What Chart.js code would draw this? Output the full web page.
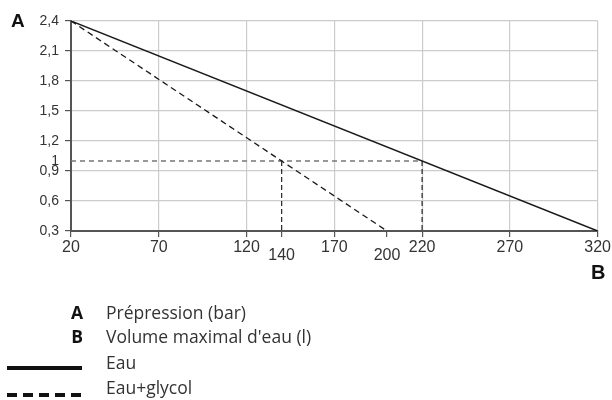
<!DOCTYPE html>
<html>
<head>
<meta charset="utf-8">
<script src="https://cdn.jsdelivr.net/npm/chart.js@4"></script>
<style>
  body { margin: 0; background: #fff; }
  #wrap { position: relative; width: 612px; height: 400px; }
  .lbl { position: absolute; font-family: "Liberation Sans", Arial, sans-serif; font-weight: bold; color: #111; }
  .leg { position: absolute; font-family: "Open Sans", sans-serif; font-size: 17.5px; color: #333; line-height: 24px; white-space: nowrap; }
  .key { position: absolute; left: 56px; width: 27px; text-align: right; font-family: "Open Sans", sans-serif; font-weight: bold; font-size: 17.5px; color: #111; line-height: 24px; }
  .sample { position: absolute; left: 7px; width: 75px; height: 4px; }
</style>
</head>
<body>
<div id="wrap">
  <canvas id="chart"></canvas>
  <div class="lbl" style="left:11px; top:10px; font-size:19px;">A</div>
  <div class="lbl" style="left:591px; top:261px; font-size:20px;">B</div>

  <div class="key" style="top:300px;">A</div>
  <div class="leg" style="left:106px; top:300px;">Prépression (bar)</div>
  <div class="key" style="top:324px;">B</div>
  <div class="leg" style="left:106px; top:324px;">Volume maximal d'eau (l)</div>
  <div class="sample" style="top:366px; background:#111;"></div>
  <div class="leg" style="left:106px; top:350px;">Eau</div>
  <div class="sample" style="top:393px; background:repeating-linear-gradient(to right, #111 0 10px, transparent 10px 16px);"></div>
  <div class="leg" style="left:106px; top:375px;">Eau+glycol</div>
</div>
<script>
// ========== Data ==========
const volumeEau = [20, 320];
const pressureEau = [2.4, 0.3];
const volumeGlycol = [20, 200];
const pressureGlycol = [2.4, 0.3];

// reading example : 1 bar -> 220 l (eau), 140 l (eau+glycol)
const refPressure = 1;
const refVolumeEau = 220;
const refVolumeGlycol = 140;
const minPressure = 0.3;
const minVolume = 20;

const xTicks = [20, 70, 120, 140, 170, 200, 220, 270, 320];
const yTicks = [0.3, 0.6, 0.9, 1, 1.2, 1.5, 1.8, 2.1, 2.4];
const xNoGrid = [20, 140, 200];
const yNoGrid = [0.3, 1];
const xLowLabels = [140, 200];

const toPoints = (xs, ys) => xs.map((x, i) => ({ x, y: ys[i] }));

// ========== Chart ==========
new Chart(document.getElementById('chart'), {
  type: 'scatter',
  data: {
    datasets: [
      { label: 'Eau', data: toPoints(volumeEau, pressureEau), showLine: true, borderColor: '#1a1a1a', borderWidth: 1.5, pointRadius: 0 },
      { label: 'Eau+glycol', data: toPoints(volumeGlycol, pressureGlycol), showLine: true, borderColor: '#1a1a1a', borderWidth: 1.3, borderDash: [6, 4], pointRadius: 0 },
      { data: toPoints([minVolume, refVolumeEau], [refPressure, refPressure]), showLine: true, borderColor: '#777', borderWidth: 1.3, borderDash: [5, 4], pointRadius: 0 },
      { data: toPoints([refVolumeEau, refVolumeEau], [refPressure, minPressure]), showLine: true, borderColor: '#222', borderWidth: 1.2, borderDash: [5, 3], pointRadius: 0 },
      { data: toPoints([refVolumeGlycol, refVolumeGlycol], [refPressure, minPressure]), showLine: true, borderColor: '#222', borderWidth: 1.2, borderDash: [5, 3], pointRadius: 0 }
    ]
  },
  options: {
    responsive: true,
    maintainAspectRatio: false,
    animation: false,
    layout: { padding: { left: 0, right: 14, top: 21, bottom: 0 } },
    plugins: { legend: { display: false }, tooltip: { enabled: false } },
    scales: {
      x: {
        type: 'linear',
        min: 20,
        max: 320,
        afterBuildTicks: axis => { axis.ticks = xTicks.map(v => ({ value: v })); },
        afterFit: scale => { scale.height = 169; },
        border: { color: '#555', width: 2 },
        grid: {
          color: ctx => xNoGrid.includes(ctx.tick && ctx.tick.value) ? 'rgba(0,0,0,0)' : '#cccccc',
          tickColor: '#555',
          tickLength: 6,
          lineWidth: 1.2
        },
        ticks: {
          autoSkip: false,
          maxRotation: 0,
          padding: 1,
          color: '#333',
          font: ctx => ({
            family: '"Liberation Sans", Arial, sans-serif',
            size: 16,
            lineHeight: xLowLabels.includes(ctx.tick && ctx.tick.value) ? 2.25 : 1.2
          }),
          callback: v => String(v)
        }
      },
      y: {
        type: 'linear',
        min: 0.3,
        max: 2.4,
        afterBuildTicks: axis => { axis.ticks = yTicks.map(v => ({ value: v })); },
        afterFit: scale => { scale.width = 71; },
        border: { color: '#555', width: 2 },
        grid: {
          color: ctx => yNoGrid.includes(ctx.tick && ctx.tick.value) ? 'rgba(0,0,0,0)' : '#cccccc',
          tickColor: ctx => ctx.tick && ctx.tick.value === refPressure ? 'rgba(0,0,0,0)' : '#555',
          tickLength: 6,
          lineWidth: 1.2
        },
        ticks: {
          autoSkip: false,
          padding: 6,
          color: '#333',
          font: { family: '"Liberation Sans", Arial, sans-serif', size: 14 },
          callback: v => String(v).replace('.', ',')
        }
      }
    }
  }
});
</script>
</body>
</html>
